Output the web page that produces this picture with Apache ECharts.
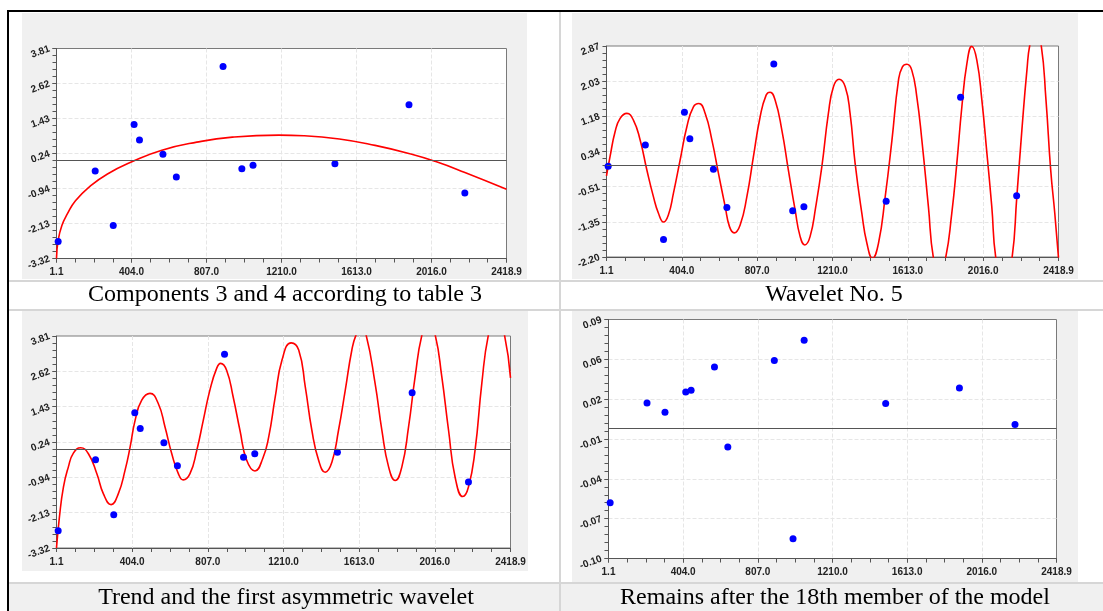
<!DOCTYPE html>
<html>
<head>
<meta charset="utf-8">
<title>Model components</title>
<script src="https://cdn.jsdelivr.net/npm/echarts@6/dist/echarts.min.js"></script>
<style>
html, body { margin: 0; padding: 0; background: #fff; }
#main { width: 1103px; height: 611px; }
</style>
</head>
<body>
<div id="main"></div>
<script>
// x positions of the observations (same in all panels)
var obsX = [10, 209, 306, 418, 447, 573, 645, 896, 997, 1057, 1497, 1895, 2195];
// source values (panels 1 and 3)
var obsY = [-2.74, -0.35, -2.20, 1.23, 0.70, 0.22, -0.55, 3.20, -0.27, -0.15, -0.10, 1.90, -1.10];
// values for wavelet No. 5 panel
var waveY = [-0.02, 0.49, -1.78, 1.28, 0.64, -0.09, -1.01, 2.44, -1.09, -0.99, -0.86, 1.64, -0.73];
// remains after the 18th member
var restY = [-0.0592, 0.0204, 0.0130, 0.0292, 0.0306, 0.0492, -0.0147, 0.0543, -0.0880, 0.0706, 0.0200, 0.0324, 0.0032];

// fitted curves
var trendCurve = [[1.1,-3.32],[10,-2.7],[30,-2.2],[60,-1.8],[103,-1.36],[179,-0.88],[275,-0.45],[409,-0.03],[563,0.35],[755,0.63],[946,0.80],[1196,0.87],[1330,0.85],[1521,0.74],[1713,0.52],[1905,0.23],[2039,-0.03],[2192,-0.39],[2418.9,-0.97]];

var waveCurve = [[1.1,-0.25],[20,0.21],[47,0.81],[74,1.13],[110,1.25],[145,1.09],[181,0.61],[217,-0.11],[252,-0.75],[279,-1.15],[306,-1.36],[332,-1.19],[359,-0.67],[395,0.13],[431,0.93],[466,1.41],[495,1.49],[529,1.25],[565,0.61],[600,-0.19],[636,-0.99],[659,-1.47],[684,-1.62],[716,-1.43],[752,-0.75],[787,0.21],[823,1.17],[855,1.69],[876,1.76],[903,1.57],[939,0.85],[974,-0.11],[1010,-1.07],[1037,-1.71],[1062,-1.91],[1090,-1.71],[1120,-1.0],[1153,-0.03],[1188,1.25],[1215,1.89],[1245,2.07],[1278,1.89],[1304,1.25],[1331,0.05],[1367,-1.15],[1394,-1.87],[1424,-2.23],[1456,-1.87],[1492,-0.75],[1528,0.61],[1563,2.05],[1584,2.37],[1608,2.43],[1634,2.29],[1661,1.65],[1688,0.61],[1723,-0.99],[1750,-2.23],[1781,-2.6],[1813,-2.27],[1848,-1.15],[1875,0.05],[1902,1.41],[1929,2.45],[1955,2.86],[1982,2.53],[2009,1.57],[2036,0.29],[2062,-0.99],[2085,-2.27],[2127,-3.0],[2169,-2.27],[2196,-0.75],[2223,0.85],[2250,2.29],[2267,2.93],[2295,3.3],[2325,2.93],[2352,1.57],[2377,-0.1],[2399,-1.15],[2418.9,-2.22]];

var modelCurve = [[1.1,-3.32],[16.5,-2.29],[38,-1.27],[64,-0.60],[91,-0.13],[130,0.05],[171,-0.15],[216,-0.82],[251,-1.50],[292,-1.86],[330,-1.50],[366,-0.71],[393,0.07],[420,0.98],[455,1.65],[499,1.88],[543,1.54],[579,0.75],[615,-0.15],[650,-0.82],[676,-1.03],[712,-0.82],[748,-0.04],[783,0.98],[818,1.99],[854,2.72],[875,2.89],[907,2.66],[942,1.76],[978,0.64],[1014,-0.37],[1058,-0.73],[1100,-0.3],[1131,0.41],[1166,1.76],[1202,3.0],[1251,3.58],[1291,3.34],[1326,2.10],[1361,0.64],[1397,-0.37],[1432,-0.77],[1468,-0.43],[1503,0.64],[1539,1.99],[1574,3.34],[1596,3.84],[1623,4.1],[1650,3.84],[1698,2.21],[1734,0.64],[1770,-0.60],[1805,-1.05],[1840,-0.60],[1876,0.75],[1911,2.44],[1947,3.84],[1982,4.35],[2018,3.84],[2053,2.44],[2089,0.64],[2124,-0.94],[2165,-1.59],[2195,-1.27],[2230,-0.04],[2266,2.21],[2301,3.84],[2344,4.68],[2387,3.84],[2418.9,2.40]];

// axis labels
var xLabels = ['1.1', '404.0', '807.0', '1210.0', '1613.0', '2016.0', '2418.9'];
var yLabels1 = ['-3.32', '-2.13', '-0.94', '0.24', '1.43', '2.62', '3.81'];
var yLabels2 = ['-2.20', '-1.35', '-0.51', '0.34', '1.18', '2.03', '2.87'];
var yLabels4 = ['-0.10', '-0.07', '-0.04', '-0.01', '0.02', '0.06', '0.09'];
var baseline = 0;

var captions = ['Components 3 and 4 according to table 3', 'Wavelet No. 5',
                'Trend and the first asymmetric wavelet', 'Remains after the 18th member of the model'];

var X_MIN = 1.1, X_MAX = 2418.9;

function steps(min, max, n) {
	var a = [];
	for (var i = 0; i <= n; i++) a.push(min + (max - min) * i / n);
	return a;
}

function labelFor(values, labels) {
	return function(v) {
		for (var i = 0; i < values.length; i++) {
			if (Math.abs(values[i] - v) < 1e-6 * (Math.abs(values[values.length - 1] - values[0]))) return labels[i];
		}
		return '';
	};
}

var labelFont = { fontSize: 10, fontWeight: 'bold', fontFamily: 'Arial', color: '#222' };
var gridLine = { show: true, showMinLine: false, showMaxLine: false, lineStyle: { color: '#e6e6e6', type: 'dashed' } };

var grids = [], xAxes = [], yAxes = [], series = [];

function addPanel(box, yMin, yMax, yLabels, pts, curve) {
	var g = grids.length;
	grids.push({
		left: box[0], top: box[1], width: box[2], height: box[3],
		show: true, backgroundColor: '#fff', borderColor: '#7a7a7a', borderWidth: 1,
		containLabel: false, outerBoundsMode: 'none'
	});
	var xMajor = steps(X_MIN, X_MAX, 6), xAll = steps(X_MIN, X_MAX, 24);
	var yMajor = steps(yMin, yMax, 6), yAll = steps(yMin, yMax, 30);
	xAxes.push({
		gridIndex: g, type: 'value', min: X_MIN, max: X_MAX, position: 'bottom',
		axisLine: { onZero: false, lineStyle: { color: '#555' } },
		axisTick: { length: 4, customValues: xMajor, lineStyle: { color: '#555' } },
		axisLabel: Object.assign({ customValues: xMajor, margin: 9, formatter: labelFor(xMajor, xLabels) }, labelFont),
		splitLine: gridLine
	});
	xAxes.push({
		gridIndex: g, type: 'value', min: X_MIN, max: X_MAX, position: 'bottom',
		axisLine: { show: false, onZero: false },
		axisTick: { length: 4, customValues: xAll, lineStyle: { color: '#555' } },
		axisLabel: { show: false }, splitLine: { show: false }
	});
	yAxes.push({
		gridIndex: g, type: 'value', min: yMin, max: yMax, position: 'left',
		axisLine: { show: true, onZero: false, lineStyle: { color: '#555' } },
		axisTick: { show: true, length: 4, customValues: yMajor, lineStyle: { color: '#555' } },
		axisLabel: Object.assign({ customValues: yMajor, margin: 7, rotate: 20, formatter: labelFor(yMajor, yLabels) }, labelFont),
		splitLine: gridLine
	});
	yAxes.push({
		gridIndex: g, type: 'value', min: yMin, max: yMax, position: 'left',
		axisLine: { show: false, onZero: false },
		axisTick: { show: true, length: 4, customValues: yAll, lineStyle: { color: '#555' } },
		axisLabel: { show: false }, splitLine: { show: false }
	});
	if (curve) {
		series.push({
			type: 'line', xAxisIndex: 2 * g, yAxisIndex: 2 * g, data: curve,
			smooth: true, showSymbol: false, clip: true, z: 3,
			lineStyle: { color: '#ff0000', width: 1.6 }
		});
	}
	series.push({
		type: 'scatter', xAxisIndex: 2 * g, yAxisIndex: 2 * g, z: 4,
		data: obsX.map(function(x, i) { return [x, pts[i]]; }),
		symbol: 'circle', symbolSize: 7, itemStyle: { color: '#0000ff', opacity: 1 },
		markLine: {
			silent: true, symbol: ['none', 'none'], label: { show: false },
			lineStyle: { color: '#555', width: 1, type: 'solid' },
			data: [{ yAxis: baseline }]
		}
	});
}

addPanel([56.5, 48.5, 450, 210], -3.32, 3.81, yLabels1, obsY, trendCurve);
addPanel([606.5, 46, 452, 211], -2.20, 2.87, yLabels2, waveY, waveCurve);
addPanel([56.5, 336, 454, 212], -3.32, 3.81, yLabels1, obsY, modelCurve);
addPanel([608.5, 319.5, 448, 239], -0.1037, 0.0871, yLabels4, restY, null);

var tableLine = '#d6d6d6';
var graphics = [
	// grey panel backgrounds
	{ type: 'rect', z: -10, shape: { x: 22, y: 13, width: 505, height: 266 }, style: { fill: '#f0f0f0' } },
	{ type: 'rect', z: -10, shape: { x: 572, y: 13, width: 506, height: 266 }, style: { fill: '#f0f0f0' } },
	{ type: 'rect', z: -10, shape: { x: 22, y: 311, width: 506, height: 260 }, style: { fill: '#f0f0f0' } },
	{ type: 'rect', z: -10, shape: { x: 572, y: 311, width: 506, height: 271 }, style: { fill: '#f0f0f0' } },
	{ type: 'rect', z: -10, shape: { x: 9, y: 584, width: 1094, height: 27 }, style: { fill: '#f0f0f0' } },
	// table rules
	{ type: 'line', z: 50, shape: { x1: 9, y1: 281, x2: 1103, y2: 281 }, style: { stroke: tableLine, lineWidth: 2 } },
	{ type: 'line', z: 50, shape: { x1: 9, y1: 310, x2: 1103, y2: 310 }, style: { stroke: tableLine, lineWidth: 2 } },
	{ type: 'line', z: 50, shape: { x1: 9, y1: 583, x2: 1103, y2: 583 }, style: { stroke: tableLine, lineWidth: 2 } },
	{ type: 'line', z: 50, shape: { x1: 560, y1: 12, x2: 560, y2: 611 }, style: { stroke: tableLine, lineWidth: 2 } },
	{ type: 'line', z: 51, shape: { x1: 7, y1: 11, x2: 1103, y2: 11 }, style: { stroke: '#000', lineWidth: 2 } },
	{ type: 'line', z: 51, shape: { x1: 8, y1: 10, x2: 8, y2: 611 }, style: { stroke: '#000', lineWidth: 2 } }
];
var capPos = [[285, 295], [834, 295], [286, 598], [835, 598]];
captions.forEach(function(t, i) {
	graphics.push({
		type: 'text', z: 60, x: capPos[i][0], y: capPos[i][1],
		style: { text: t, font: '24px "Liberation Serif", "Times New Roman", serif', fill: '#000',
		         textAlign: 'center', textVerticalAlign: 'middle' }
	});
});

var myChart = echarts.init(document.getElementById('main'));
myChart.setOption({
	animation: false,
	backgroundColor: '#fff',
	grid: grids,
	xAxis: xAxes,
	yAxis: yAxes,
	series: series,
	graphic: { elements: graphics }
});
</script>
</body>
</html>
